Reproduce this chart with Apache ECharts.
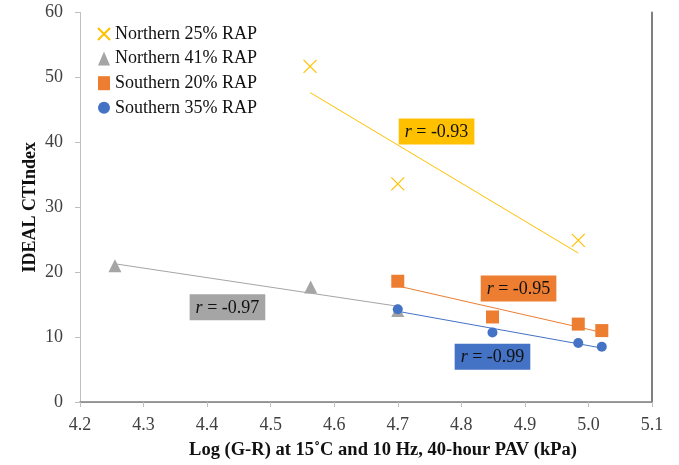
<!DOCTYPE html>
<html><head><meta charset="utf-8">
<script src="https://cdn.jsdelivr.net/npm/echarts@6/dist/echarts.min.js"></script>
<style>html,body{margin:0;padding:0;background:#fff}#c{width:679px;height:465px}</style>
</head><body><div id="c"></div>
<script>
// ---- data ----
const seriesNames = ['Northern 25% RAP', 'Northern 41% RAP', 'Southern 20% RAP', 'Southern 35% RAP'];
const xN25 = [4.562, 4.700, 4.984];
const yN25 = [51.7, 33.6, 24.9];
const xN41 = [4.255, 4.563, 4.700];
const yN41 = [21.0, 17.7, 14.1];
const xS20 = [4.700, 4.849, 4.984, 5.021];
const yS20 = [18.6, 13.1, 12.0, 11.0];
const xS35 = [4.700, 4.849, 4.984, 5.021];
const yS35 = [14.3, 10.7, 9.1, 8.5];
const rValues = ['-0.93', '-0.97', '-0.95', '-0.99'];
const xTickLabels = ['4.2','4.3','4.4','4.5','4.6','4.7','4.8','4.9','5.0','5.1'];
const yTickLabels = ['0','10','20','30','40','50','60'];
const xTitle = 'Log (G-R) at 15\u02DAC and 10 Hz, 40-hour PAV (kPa)';
const yTitle = 'IDEAL CTIndex';

// ---- styling / layout ----
const FONT = '"Liberation Serif", "Times New Roman", serif';
const colors = ['#FFC000', '#A5A5A5', '#ED7D31', '#4472C4'];
const xs = [xN25, xN41, xS20, xS35];
const ys = [yN25, yN41, yS20, yS35];
const symbols = ['path://M0,0L10,10M10,0L0,10', 'triangle', 'rect', 'circle'];
const symSizes = [13, 13, 13, 10];
const annotAnchors = [[4.761, 41.65], [4.432, 14.6], [4.890, 17.5], [4.849, 6.97]];

function pairs(x, y) { return x.map((v, i) => [v, y[i]]); }
function fitLine(x, y) {
  const n = x.length;
  const mx = x.reduce((a, b) => a + b, 0) / n;
  const my = y.reduce((a, b) => a + b, 0) / n;
  let sxy = 0, sxx = 0;
  for (let i = 0; i < n; i++) { sxy += (x[i] - mx) * (y[i] - my); sxx += (x[i] - mx) ** 2; }
  const b = sxy / sxx, a = my - b * mx;
  const x0 = Math.min(...x), x1 = Math.max(...x);
  return [[x0, a + b * x0], [x1, a + b * x1]];
}

const series = [];
// trend lines
for (let k = 0; k < 4; k++) {
  series.push({
    type: 'line', name: 'trend' + k, data: fitLine(xs[k], ys[k]),
    showSymbol: false, silent: true, z: 2,
    lineStyle: { color: colors[k], width: 1 },
    itemStyle: { color: colors[k] },
    markPoint: {
      symbol: 'rect', symbolSize: 0, silent: true,
      data: [{ coord: annotAnchors[k] }],
      label: {
        show: true, position: 'inside',
        formatter: '{i|r}{n| = ' + rValues[k] + '}',
        backgroundColor: colors[k], padding: [4, 6, 2, 6],
        color: '#111', fontFamily: FONT, fontSize: 18, lineHeight: 20,
        rich: {
          i: { fontStyle: 'italic', fontFamily: FONT, fontSize: 18, color: '#111', lineHeight: 20 },
          n: { fontStyle: 'normal', fontFamily: FONT, fontSize: 18, color: '#111', lineHeight: 20 }
        }
      }
    }
  });
}
// markers
for (let k = 0; k < 4; k++) {
  const isX = k === 0;
  series.push({
    type: 'scatter', name: seriesNames[k], data: pairs(xs[k], ys[k]),
    symbol: symbols[k], symbolSize: symSizes[k], symbolKeepAspect: true, z: 3,
    itemStyle: isX ? { color: 'rgba(0,0,0,0)', borderColor: colors[k], borderWidth: 1.2, opacity: 1 }
                   : { color: colors[k], borderWidth: 0, opacity: 1 }
  });
}

const chart = echarts.init(document.getElementById('c'), null, { renderer: 'canvas' });
chart.setOption({
  animation: false,
  backgroundColor: '#fff',
  textStyle: { fontFamily: FONT },
  grid: { left: 80, right: 27, top: 12.5, bottom: 61 },
  legend: {
    orient: 'vertical', left: 92, top: 19, itemWidth: 12, itemHeight: 14, itemGap: 4.6,
    data: seriesNames,
    textStyle: { fontFamily: FONT, fontSize: 18, color: '#111', lineHeight: 20 }
  },
  xAxis: [{
    type: 'value', min: 4.2, max: 5.1, interval: 0.1,
    name: xTitle, nameLocation: 'middle', nameGap: 39, nameMoveOverlap: false,
    nameTextStyle: { fontFamily: FONT, fontSize: 18.5, fontWeight: 'bold', color: '#111', padding: [0, 0, 0, 34] },
    axisLine: { show: true, lineStyle: { color: '#BFBFBF', width: 1 } },
    axisTick: { show: true, length: 5, lineStyle: { color: '#BFBFBF' } },
    splitLine: { show: false },
    axisLabel: { fontFamily: FONT, fontSize: 18, color: '#404040', margin: 14,
      formatter: v => xTickLabels[Math.round((v - 4.2) * 10)] }
  }, {
    type: 'value', position: 'top', min: 4.2, max: 5.1,
    axisLine: { show: true, lineStyle: { color: '#808080', width: 1.5 } },
    axisTick: { show: false }, axisLabel: { show: false }, splitLine: { show: false }
  }],
  yAxis: [{
    type: 'value', min: 0, max: 60, interval: 10,
    name: yTitle, nameLocation: 'middle', nameGap: 41, nameRotate: 90, nameMoveOverlap: false,
    nameTextStyle: { fontFamily: FONT, fontSize: 18, fontWeight: 'bold', color: '#111' },
    axisLine: { show: true, lineStyle: { color: '#BFBFBF', width: 1 } },
    axisTick: { show: true, length: 5, lineStyle: { color: '#BFBFBF' } },
    splitLine: { show: false },
    axisLabel: { fontFamily: FONT, fontSize: 18, color: '#404040', margin: 17,
      formatter: v => yTickLabels[Math.round(v / 10)] }
  }, {
    type: 'value', position: 'right', min: 0, max: 60,
    axisLine: { show: true, lineStyle: { color: '#808080', width: 2 } },
    axisTick: { show: false }, axisLabel: { show: false }, splitLine: { show: false }
  }],
  series: series
});
</script>
</body></html>
